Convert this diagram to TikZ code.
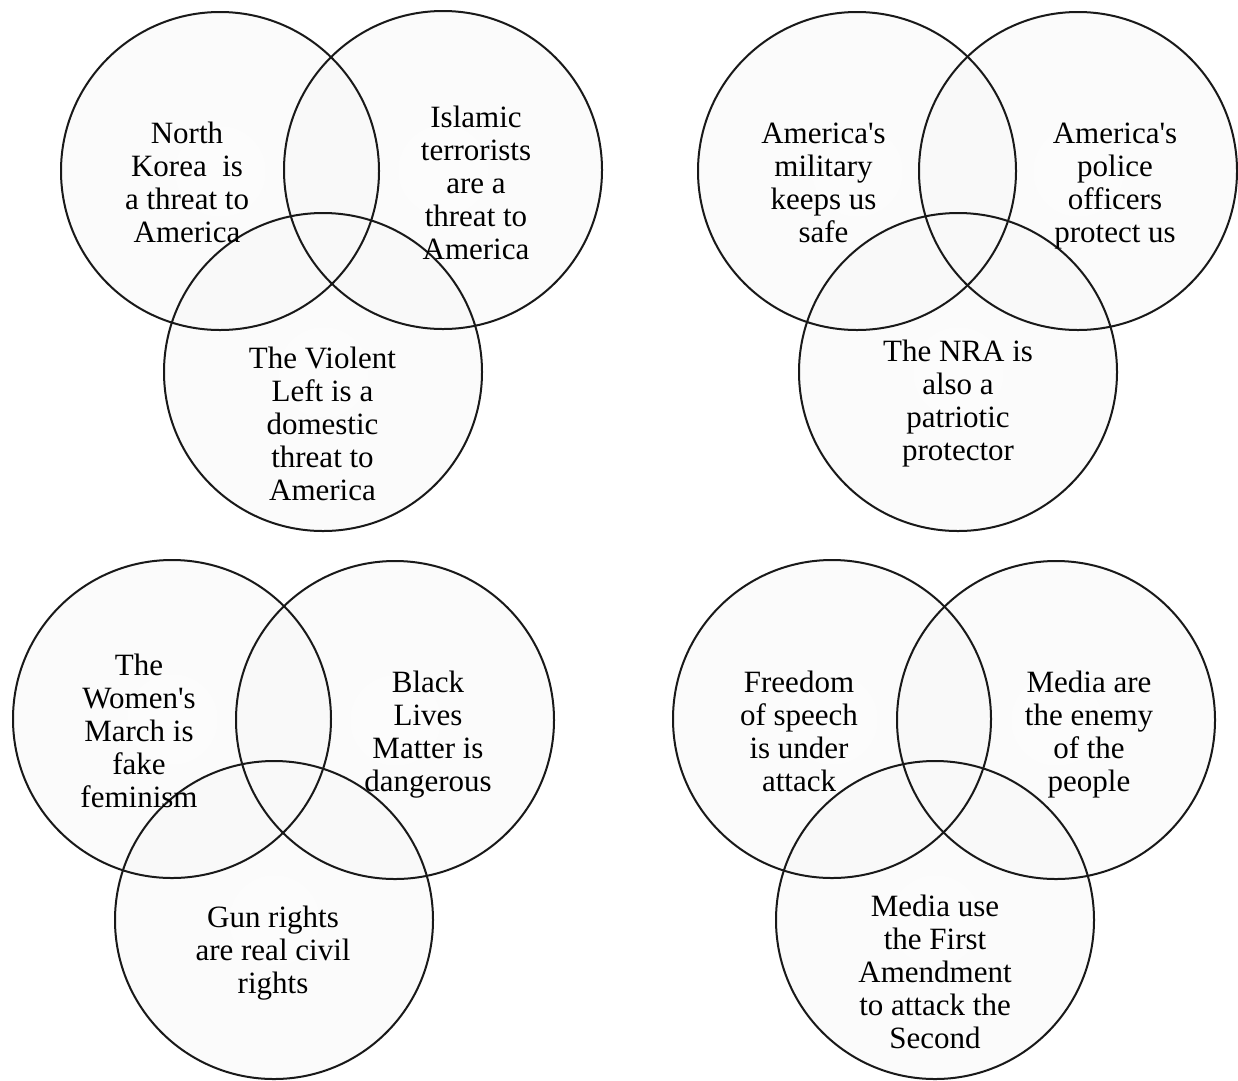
\documentclass[tikz,border=0pt]{standalone}
\usepackage{fontspec}
\setmainfont{Liberation Serif}[Ligatures=TeXOff]
\pgfdeclareradialshading{glow}{\pgfpoint{0bp}{0bp}}{color(0bp)=(black!2); color(45bp)=(black!3); color(48.3bp)=(black!12); color(50bp)=(black!45)}
\tikzset{
  venn/.style={circle, minimum size=320pt, inner sep=0pt, outer sep=0pt, shading=glow, fill opacity=0.55},
  ring/.style={draw=black!90, line width=2pt},
  lbl/.style={align=center, inner sep=0pt, text=black, font=\fontsize{31}{33}\selectfont}
}
\begin{document}
\begin{tikzpicture}[x=1pt, y=-1pt]
\useasboundingbox (0,0) rectangle (1238,1080);
\fill[white] (0,0) rectangle (1238,1080);
% circle fills
\node[venn] (tlA) at (220,171) {};
\node[venn] (tlB) at (443,170) {};
\node[venn] (tlC) at (323,372) {};
\node[venn] (trA) at (857,171) {};
\node[venn] (trB) at (1078,171) {};
\node[venn] (trC) at (958,372) {};
\node[venn] (blA) at (172,719) {};
\node[venn] (blB) at (395,720) {};
\node[venn] (blC) at (274,920) {};
\node[venn] (brA) at (832,719) {};
\node[venn] (brB) at (1056,720) {};
\node[venn] (brC) at (935,920) {};
% outlines
\foreach \c in {tlA,tlB,tlC,trA,trB,trC,blA,blB,blC,brA,brB,brC}
  \draw[ring] (\c.center) circle[radius=159];
% top-left
\node[lbl] (tlAt) at (187,182) {North\\Korea\ \ is\\a threat to\\America};
\node[lbl] (tlBt) at (476,182.5) {Islamic\\terrorists\\are a\\threat to\\America};
\node[lbl] (tlCt) at (322.5,423.5) {The Violent\\Left is a\\domestic\\threat to\\America};
% top-right
\node[lbl] (trAt) at (823.5,183) {America's\\military\\keeps us\\safe};
\node[lbl] (trBt) at (1115,186.5) {America's\\police\\officers\\protect us};
\node[lbl] (trCt) at (958,403.5) {The NRA is\\also a\\patriotic\\protector};
% bottom-left
\node[lbl] (blAt) at (139,730.5) {The\\Women's\\March is\\fake\\feminism};
\node[lbl] (blBt) at (428,734.5) {Black\\Lives\\Matter is\\dangerous};
\node[lbl] (blCt) at (273,953) {Gun rights\\are real civil\\rights};
% bottom-right
\node[lbl] (brAt) at (799,731) {Freedom\\of speech\\is under\\attack};
\node[lbl] (brBt) at (1089,734.5) {Media are\\the enemy\\of the\\people};
\node[lbl] (brCt) at (935,972) {Media use\\the First\\Amendment\\to attack the\\Second};
\end{tikzpicture}
\end{document}
